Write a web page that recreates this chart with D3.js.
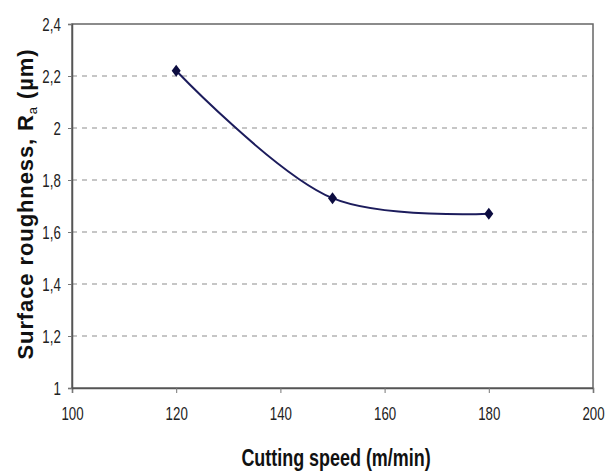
<!DOCTYPE html>
<html>
<head>
<meta charset="utf-8">
<script src="https://cdn.jsdelivr.net/npm/d3@7"></script>
<style>
  body { margin: 0; background: #fff; }
  svg { display: block; }
  .title { font-family: "Liberation Sans", Arial, sans-serif; font-weight: bold; fill: #111; }
</style>
</head>
<body>
<svg id="chart"></svg>
<script>
// data
var speeds = [120, 150, 180];
var roughness = [2.22, 1.73, 1.67];
var xTicks = [100, 120, 140, 160, 180, 200];
var yTicks = [1, 1.2, 1.4, 1.6, 1.8, 2, 2.2, 2.4];

// margins
var margin = { top: 24, right: 20, bottom: 86, left: 72 },
    width = 613 - margin.left - margin.right,
    height = 474 - margin.top - margin.bottom;

var xScale = d3.scaleLinear().domain([100, 200]).range([0, width]);
var yScale = d3.scaleLinear().domain([1, 2.4]).range([height, 0]);

var comma = function(d){ return String(d).replace(".", ","); };

var svg = d3.select("#chart")
    .attr("width", 613)
    .attr("height", 474);
svg.append("rect").attr("width", 613).attr("height", 474).attr("fill", "#fff");

var g = svg.append("g").attr("transform", "translate(" + margin.left + "," + margin.top + ")");

// dashed grid
g.selectAll(".grid").data(yTicks.filter(function(d){ return d > 1 && d < 2.4; })).enter()
    .append("line")
    .attr("class", "grid")
    .attr("x1", 0).attr("x2", width)
    .attr("y1", function(d){ return yScale(d); })
    .attr("y2", function(d){ return yScale(d); })
    .attr("stroke", "#b4b4b4")
    .attr("stroke-width", 1.5)
    .attr("stroke-dasharray", "5 5");

// plot border
g.append("rect")
    .attr("width", width).attr("height", height)
    .attr("fill", "none")
    .attr("stroke", "#666")
    .attr("stroke-width", 1.5);

// axes
var xAxis = d3.axisBottom(xScale).tickValues(xTicks).tickSize(5).tickPadding(14).tickFormat(d3.format("d"));
var yAxis = d3.axisLeft(yScale).tickValues(yTicks).tickSize(4).tickPadding(12).tickFormat(comma);

var gx = g.append("g").attr("transform", "translate(0," + height + ")").call(xAxis);
var gy = g.append("g").call(yAxis);
[gx, gy].forEach(function(a){
  a.attr("font-family", "'Liberation Sans', Arial, sans-serif").attr("font-size", 19);
  a.select(".domain").attr("stroke", "#555").attr("stroke-width", 1.5);
  a.selectAll(".tick line").attr("stroke", "#777");
  // narrow look of the tick labels
  a.selectAll(".tick text").attr("fill", "#222").attr("transform", "scale(0.7,1)");
});

// line
var pts = speeds.map(function(s, i){ return { x: s, y: roughness[i] }; });
var line = d3.line()
    .x(function(d){ return xScale(d.x); })
    .y(function(d){ return yScale(d.y); })
    .curve(d3.curveCatmullRom.alpha(0.5));
g.append("path")
    .attr("d", line(pts))
    .attr("fill", "none")
    .attr("stroke", "#1c1c5c")
    .attr("stroke-width", 2);

// diamond markers
g.selectAll(".marker").data(pts).enter().append("path")
    .attr("class", "marker")
    .attr("d", "M0,-6L4.5,0L0,6L-4.5,0Z")
    .attr("transform", function(d){ return "translate(" + xScale(d.x) + "," + yScale(d.y) + ")"; })
    .attr("fill", "#0c0c40");

// titles
svg.append("text")
    .attr("class", "title")
    .attr("transform", "translate(336,466) scale(0.78,1)")
    .attr("text-anchor", "middle")
    .style("font-size", "23px")
    .text("Cutting speed (m/min)");

var yt = svg.append("text")
    .attr("class", "title")
    .attr("transform", "translate(33,204) rotate(-90)")
    .attr("text-anchor", "middle")
    .style("font-size", "22px")
    .style("letter-spacing", "0.9px");
yt.append("tspan").text("Surface roughness, R");
yt.append("tspan").attr("dy", 4).style("font-size", "13px").style("font-weight", "normal").text("a");
yt.append("tspan").attr("dy", -4).text(" (\u00b5m)");
</script>
</body>
</html>
